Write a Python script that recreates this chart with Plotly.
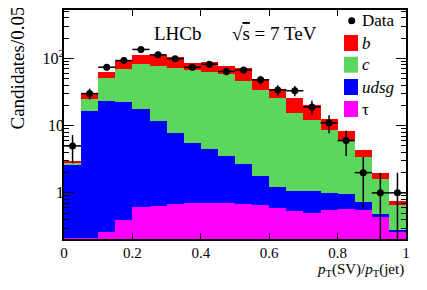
import numpy as np
import plotly.graph_objects as go

# bins of pT(SV)/pT(jet), width 0.05
bin_width = 0.05
bin_centers = [round(0.025 + 0.05 * i, 3) for i in range(20)]

data_counts = [5, 30, 74, 93, 136, 113, 99, 74, 82, 64, 67, 48, 34, 33, 19, 11, 6, 2, 1, 1]

tau = [0.215, 0.215, 0.26, 0.40, 0.61, 0.64, 0.68, 0.70, 0.71, 0.71,
       0.69, 0.66, 0.59, 0.54, 0.51, 0.55, 0.57, 0.55, 0.44, 0.27]
udsg = [2.43, 16.2, 22.7, 21.9, 17.0, 11.1, 6.98, 4.75, 3.83, 2.86,
        1.97, 1.11, 0.65, 0.54, 0.54, 0.46, 0.38, 0.19, 0.05, 0.01]
c_jets = [0.15, 8.3, 28.0, 47.2, 63.9, 66.3, 65.1, 61.0, 58.2, 55.7,
          43.3, 31.8, 24.6, 14.6, 11.05, 7.6, 4.95, 2.71, 1.11, 0.38]
b_jets = [0.1, 6.3, 12.5, 23.5, 29.5, 33.0, 32.2, 18.6, 25.3, 16.7,
          26.0, 16.4, 9.8, 10.1, 8.5, 4.0, 2.3, 0.95, 0.4, 0.11]

y_tickvals = [1, 10, 100]
y_ticktext = ["1", "10", "10<sup>2</sup>"]
x_tickvals = [0, 0.2, 0.4, 0.6, 0.8, 1]
x_ticktext = ["0", "0.2", "0.4", "0.6", "0.8", "1"]

legend_names = ["Data", "<i>b</i>", "<i>c</i>", "<i>udsg</i>", "τ"]
legend_colors = ["black", "#ff0000", "#5cd65c", "#0000ff", "#ff00ff"]

FONT = "Liberation Serif"
RED, GREEN, BLUE, MAGENTA = "#ff0000", "#5cd65c", "#0000ff", "#ff00ff"

# figure geometry (page body has an 8px margin)
W, H = 419, 282
ML, MR, MT, MB = 56, 21, 2, 51
PW, PH = W - ML - MR, H - MT - MB


def px(xs):  # screen x pixel -> paper
    return (xs - 8 - ML) / PW


def py(ys):  # screen y pixel -> paper
    return 1 - (ys - 8 - MT) / PH


fig = go.Figure()

for name, vals, col in [("τ", tau, MAGENTA), ("udsg", udsg, BLUE),
                        ("c", c_jets, GREEN), ("b", b_jets, RED)]:
    fig.add_trace(go.Bar(
        x=bin_centers, y=vals, width=bin_width, name=name,
        marker=dict(color=col, line=dict(width=0)), showlegend=False,
    ))

errs = list(np.sqrt(np.array(data_counts, dtype=float)))
fig.add_trace(go.Scatter(
    x=bin_centers, y=data_counts, mode="markers", name="Data",
    marker=dict(color="black", size=7), showlegend=False,
    error_y=dict(type="data", array=errs, color="black", thickness=1.5, width=0),
    error_x=dict(type="constant", value=bin_width / 2, color="black", thickness=1.5, width=0),
))

minor_vals = ([v / 10 for v in range(2, 10)] + list(range(2, 10)) +
              list(range(20, 100, 10)) + list(range(200, 600, 100)))

fig.update_layout(
    width=W, height=H,
    margin=dict(l=ML, r=MR, t=MT, b=MB, autoexpand=False),
    paper_bgcolor="white", plot_bgcolor="white",
    barmode="stack", bargap=0,
    font=dict(family=FONT, size=16, color="black"),
    showlegend=False,
    xaxis=dict(
        range=[0, 1], tickvals=x_tickvals, ticktext=x_ticktext,
        ticks="inside", ticklen=6, tickwidth=1, tickcolor="black",
        showline=True, linecolor="black", linewidth=1.5, mirror="allticks",
        showgrid=False, zeroline=False, layer="above traces",
        tickfont=dict(family=FONT, size=15), ticklabelstandoff=-1,
    ),
    yaxis=dict(
        type="log", range=[np.log10(0.206), np.log10(525)],
        tickvals=y_tickvals, ticktext=y_ticktext,
        ticks="inside", ticklen=10, tickwidth=1, tickcolor="black",
        minor=dict(tickvals=minor_vals, ticks="inside", ticklen=5,
                   tickcolor="black", tickwidth=1, showgrid=False),
        showline=True, linecolor="black", linewidth=1.5, mirror="allticks",
        showgrid=False, zeroline=False, layer="above traces",
        tickfont=dict(family=FONT, size=16), ticklabelstandoff=-5,
    ),
)

# manual legend (top right)
legend_y = [20.7, 43, 64.7, 87, 109]
for i, (name, col) in enumerate(zip(legend_names, legend_colors)):
    yc = legend_y[i]
    if i == 0:
        fig.add_shape(type="circle", xref="paper", yref="paper",
                      x0=px(348.2), x1=px(355.2), y0=py(yc + 3.5), y1=py(yc - 3.5),
                      fillcolor="black", line=dict(width=0))
    else:
        fig.add_shape(type="rect", xref="paper", yref="paper",
                      x0=px(344), x1=px(358), y0=py(yc + 8), y1=py(yc - 8),
                      fillcolor=col, line=dict(width=0))
    fig.add_annotation(text=name, xref="paper", yref="paper",
                       x=px(360), y=py(yc), xanchor="left", yanchor="middle",
                       showarrow=False, font=dict(family=FONT, size=17))

fig.add_annotation(
    text="Candidates/0.05", xref="paper", yref="paper", x=px(17), y=py(5),
    xanchor="center", yanchor="top", textangle=-90, showarrow=False,
    font=dict(family=FONT, size=19),
)
fig.add_annotation(
    text="<i>p</i><sub>T</sub>(SV)/<i>p</i><sub>T</sub>(jet)", xref="paper", yref="paper",
    x=px(406), y=py(259), xanchor="right", yanchor="top", showarrow=False,
    font=dict(family=FONT, size=15),
)
fig.add_annotation(
    text="LHCb", xref="paper", yref="paper", x=px(152), y=py(33),
    xanchor="left", yanchor="middle", showarrow=False,
    font=dict(family=FONT, size=19),
)
fig.add_annotation(
    text="√<span style='text-decoration:overline'>s</span> = 7 TeV", xref="paper", yref="paper",
    x=px(230), y=py(33), xanchor="left", yanchor="middle", showarrow=False,
    font=dict(family=FONT, size=19),
)

fig.write_html("out.html")
